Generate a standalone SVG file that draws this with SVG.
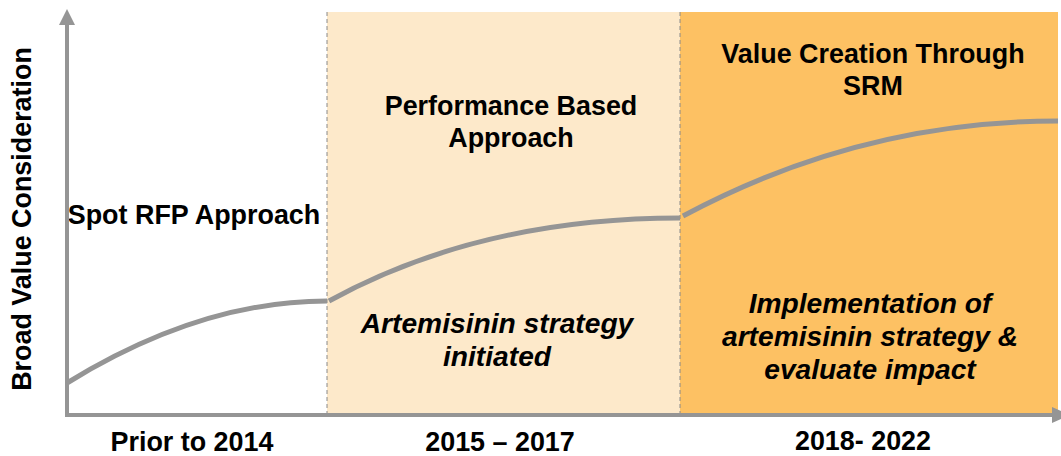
<svg xmlns="http://www.w3.org/2000/svg" width="1061" height="456" viewBox="0 0 1061 456">
<style>
.t{font-family:"Liberation Sans",Arial,sans-serif;font-weight:bold;font-size:26.9px;fill:#000;text-anchor:middle}
.i{font-style:italic;font-size:28.2px}
.ax{stroke:#959595;stroke-width:4;fill:none}
.cv{stroke:#959595;stroke-width:5;fill:none}
.dash{stroke:#8a8a8a;stroke-width:1;stroke-dasharray:4 3}
</style>
<rect width="1061" height="456" fill="#fff"/>
<g id="panel-2015-2017">
<rect x="327" y="12" width="353" height="402" fill="#FDE9CA"/>
<line class="dash" x1="327" y1="12" x2="327" y2="414"/>
<text class="t" x="511" y="115">Performance Based</text>
<text class="t" x="511" y="147">Approach</text>
<text class="t i" x="497" y="333">Artemisinin strategy</text>
<text class="t i" x="497" y="366">initiated</text>
</g>
<g id="panel-2018-2022">
<rect x="680" y="12" width="378" height="402" fill="#FDC163"/>
<line class="dash" x1="680" y1="12" x2="680" y2="414"/>
<text class="t" x="873" y="63">Value Creation Through</text>
<text class="t" x="873" y="95">SRM</text>
<text class="t i" x="870" y="313">Implementation of</text>
<text class="t i" x="870" y="346">artemisinin strategy &amp;</text>
<text class="t i" x="870" y="379">evaluate impact</text>
</g>
<g id="panel-prior">
<text class="t" x="194" y="224">Spot RFP Approach</text>
</g>
<g id="axes">
<line class="ax" x1="67" y1="22" x2="67" y2="415"/>
<polygon points="59,25 75,25 67,9" fill="#959595"/>
<line class="ax" x1="65" y1="415" x2="1052" y2="415"/>
<polygon points="1052,407 1052,423 1070,415" fill="#959595"/>
<text class="t" transform="translate(31,219) rotate(-90)">Broad Value Consideration</text>
<text class="t" x="192" y="451">Prior to 2014</text>
<text class="t" x="500" y="451">2015 – 2017</text>
<text class="t" x="863" y="450">2018- 2022</text>
</g>
<g id="connectors">
<path class="cv" d="M67,383 Q200,301 327,301"/>
<path class="cv" d="M329,301 Q480,218 680,218"/>
<path class="cv" d="M683,216 Q860,121 1058,121"/>
</g>
</svg>
